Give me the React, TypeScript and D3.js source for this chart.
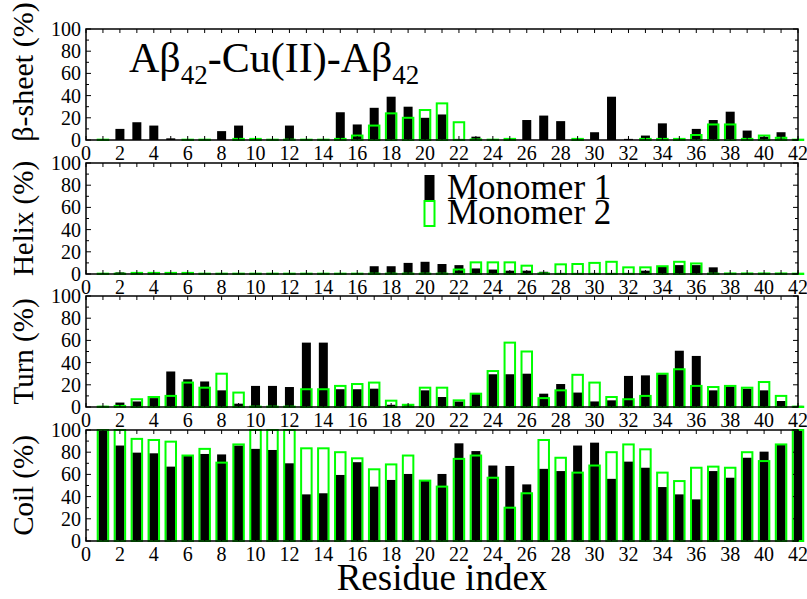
import React from "react";
import * as d3 from "d3";

const residues = [1,2,3,4,5,6,7,8,9,10,11,12,13,14,15,16,17,18,19,20,21,22,23,24,25,26,27,28,29,30,31,32,33,34,35,36,37,38,39,40,41,42];
const xTicks = [0,2,4,6,8,10,12,14,16,18,20,22,24,26,28,30,32,34,36,38,40,42];
const yTicks = [0,20,40,60,80,100];

const betaM1 = [0,10,16,13,1.5,0,0,8,13,0, 0,13,0,0,25,14,29,39,30,20, 23,1,3,0,0,18,22,17,1,7, 39,1,4,15,1,10,18,25.5,8.5,3, 7,0.5];
const betaM2 = [0.3,0,0,0,0,0.3,0.3,0,1,1, 0.3,0.3,0.3,0.3,1,4,13,24,20,27, 33,16,0.5,0.3,1,0,0,0,1,0, 0,0,1,1,1,4.5,14,14,1,4, 2,0.3];
const helixM1 = [0,1.5,0,0,0,0,0,0,0,0, 0,0,0,0,0,0,7,7,10,11, 9,8,5,4,3,3,2,1,1,1, 1,1,3,7,8,8,6,0,0,0, 0,0];
const helixM2 = [0.3,0.3,1,1,1,1,0.3,0.3,0.3,0.3, 0.3,0.3,0.3,0.3,0.3,0.3,0.3,0.3,0.3,0.3, 0.3,4,10.5,10.5,10.5,7.5,0.5,8.7,9,10, 11,6,6,7,11,9.5,0.3,0.5,0.5,0.5, 0.5,0.3];
const turnM1 = [1,4,5,8,32,25,23,15,3,19, 19,18,58,58,16,16,16.5,2,2.4,15, 9,5,12,29.5,29.5,30,12,20.7,13,5, 6,28,28.5,29.5,50.7,46,15,18.6,16.5,15, 5.4,1];
const turnM2 = [0.3,1,7,9,10,22,17.4,30,13,0.3, 0.3,0.3,16,16,19,20.7,22,5.7,2,17.4, 17.4,6,12,32.4,58,50,8,15,29,22, 9,7,10,30,34,19,18,19,17.4,22.5, 10,0.3];
const coilM1 = [100,86,79.6,79,67,77,78.4,78,86,83, 82,70,42,43,59.5,71,49,55,60.4,54.4, 60.4,88,81,68,67.6,51,65,63,86,88.6, 56,71.5,66,48.6,42,37.5,63,57,75,80.5, 87,100];
const coilM2 = [100,100,92,91,89.5,77,83,70.6,87,100, 100,100,83.5,83.5,80,74.5,64.6,69,77,54.4, 49,74,77,57,30,43,91,75,61.6,68, 80,87,82.6,61.6,54,66,67,66,80,72, 87,100];

const panelLabels = ["β-sheet (%)", "Helix (%)", "Turn (%)", "Coil (%)"];
const monomer1 = [betaM1, helixM1, turnM1, coilM1];
const monomer2 = [betaM2, helixM2, turnM2, coilM2];
const legendLabels = ["Monomer 1", "Monomer 2"];

const FONT = "'Liberation Serif', 'Times New Roman', serif";
const GREEN = "#00ff00";

export default function App() {
  const W = 807, H = 599;
  const left = 86, right = 798;
  const panelTops = [29, 163, 296, 430];
  const ph = 111;
  const x = d3.scaleLinear().domain([0, 42]).range([left, right]);
  const blackW = 9, greenW = 10.5;
  const minorX = d3.range(0, 43);
  const minorY = d3.range(0, 101, 10);

  return (
    <svg width={W} height={H} style={{ position: "absolute", left: 0, top: 0, background: "#fff" }} fontFamily={FONT}>
      <rect x={0} y={0} width={W} height={H} fill="#fff" />
      {panelLabels.map((lab, pi) => {
        const top = panelTops[pi];
        const y = d3.scaleLinear().domain([0, 100]).range([top + ph, top]);
        const m1 = monomer1[pi], m2 = monomer2[pi];
        return (
          <g key={lab}>
            {residues.map((r, i) => m1[i] > 0 ? (
              <rect key={"b" + r} x={x(r) - blackW / 2} y={y(m1[i])} width={blackW} height={y(0) - y(m1[i])} fill="#000" />
            ) : null)}
            {residues.map((r, i) => m2[i] > 0 ? (
              <rect key={"g" + r} x={x(r) - greenW / 2} y={y(m2[i])} width={greenW} height={y(0) - y(m2[i])} fill="none" stroke={GREEN} strokeWidth={2} />
            ) : null)}
            <rect x={left} y={top} width={right - left} height={ph} fill="none" stroke="#000" strokeWidth={1.5} />
            {minorX.map((t) => (
              <g key={"xt" + t}>
                <line x1={x(t)} x2={x(t)} y1={top} y2={top + 4} stroke="#000" strokeWidth={1} />
                <line x1={x(t)} x2={x(t)} y1={top + ph} y2={top + ph - 4} stroke="#000" strokeWidth={1} />
              </g>
            ))}
            {minorY.map((t) => {
              const len = t % 20 === 0 ? 5 : 3;
              return (
                <g key={"yt" + t}>
                  <line x1={left} x2={left + len} y1={y(t)} y2={y(t)} stroke="#000" strokeWidth={1} />
                  <line x1={right} x2={right - len} y1={y(t)} y2={y(t)} stroke="#000" strokeWidth={1} />
                </g>
              );
            })}
            {yTicks.map((t) => (
              <text key={"yl" + t} x={left - 5} y={y(t) + 7} textAnchor="end" fontSize={20} fill="#000">{t}</text>
            ))}
            {xTicks.map((t) => (
              <text key={"xl" + t} x={x(t)} y={top + ph + 20} textAnchor="middle" fontSize={20} fill="#000">{t}</text>
            ))}
            <text transform={`translate(33, ${pi === 0 ? 72 : top + ph / 2}) rotate(-90)`} textAnchor="middle" fontSize={pi === 0 ? 30 : 29} fill="#000">{lab}</text>
          </g>
        );
      })}
      <text x={129} y={72} fontSize={42} fill="#000">
        <tspan>Aβ</tspan>
        <tspan fontSize={27} dy={12}>42</tspan>
        <tspan dy={-12}>-Cu(II)-Aβ</tspan>
        <tspan fontSize={27} dy={12}>42</tspan>
      </text>
      <rect x={424.5} y={175} width={10} height={25} fill="#000" />
      <rect x={424.5} y={201} width={10} height={25} fill="none" stroke={GREEN} strokeWidth={2} />
      <text x={447} y={199} fontSize={35} fill="#000">{legendLabels[0]}</text>
      <text x={447} y={224} fontSize={35} fill="#000">{legendLabels[1]}</text>
      <text x={(left + right) / 2} y={590} textAnchor="middle" fontSize={37} fill="#000">Residue index</text>
    </svg>
  );
}
